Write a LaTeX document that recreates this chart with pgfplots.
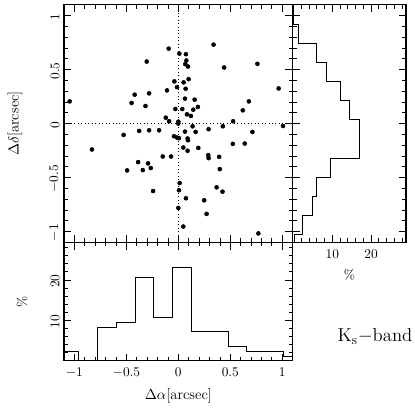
\documentclass[border=0pt]{standalone}
\usepackage{pgfplots}
\pgfplotsset{compat=1.18}

\pgfplotsset{
  panel/.style={scale only axis, axis line style={line width=0.8pt},
    major tick length=5.5pt, minor tick length=3pt,
    every tick/.style={black,line width=0.6pt},
    tick align=inside, xtick pos=both, ytick pos=both,
    xticklabel style={yshift=-2pt}},
  hist/.style={black,line width=0.6pt,no marks},
}

\begin{document}
\begin{tikzpicture}
\useasboundingbox (-48pt,-126.5pt) rectangle (263.25pt,181.7pt);

% scatter of offsets
\begin{axis}[panel,name=main,at={(0,0)},anchor=south west,
  width=171.5pt,height=178pt,
  xmin=-1.1,xmax=1.1,ymin=-1.1,ymax=1.1,
  xtick={-1,-0.5,0,0.5,1},xticklabels={},
  ytick={-1,-0.5,0,0.5,1},
  minor xtick={-0.9,-0.8,-0.7,-0.6,-0.4,-0.3,-0.2,-0.1,0.1,0.2,0.3,0.4,0.6,0.7,0.8,0.9},
  minor ytick={-0.9,-0.8,-0.7,-0.6,-0.4,-0.3,-0.2,-0.1,0.1,0.2,0.3,0.4,0.6,0.7,0.8,0.9},
  yticklabel style={rotate=90,anchor=south,xshift=-1pt},
  ylabel={\fontsize{11}{13}\selectfont$\Delta\delta$[arcsec]},
  ylabel style={at={(axis description cs:-0.215,0.5)},anchor=center,rotate=0}]
\addplot[black,dotted,line width=0.6pt] coordinates {(-1.1,0) (1.1,0)};
\addplot[black,dotted,line width=0.6pt] coordinates {(0,-1.1) (0,1.1)};
\addplot[only marks,mark=*,mark size=1.5pt,black] coordinates {
(-1.045,0.206) (-0.831,-0.240) (-0.527,-0.105) (-0.492,-0.434) (-0.450,0.191)
(-0.420,0.268) (-0.387,-0.357) (-0.377,-0.068) (-0.342,-0.431) (-0.316,0.163)
(-0.304,0.575) (-0.291,-0.369) (-0.281,0.280) (-0.281,-0.062) (-0.265,-0.412)
(-0.243,-0.625) (-0.185,-0.062) (-0.150,-0.305) (-0.121,0.055) (-0.109,0.308)
(-0.093,0.695) (-0.089,0.022) (-0.070,-0.305) (-0.038,0.391) (-0.042,-0.117)
(-0.029,0.135) (-0.013,0.338) (-0.013,-0.129) (0.000,0.018) (0.000,0.000)
(0.006,-0.135) (0.010,0.649) (0.013,-0.551) (0.006,-0.618) (0.000,-0.782)
(0.038,0.135) (0.051,0.382) (0.048,-0.222) (0.048,-0.954) (0.064,0.231)
(0.067,0.551) (0.070,0.323) (0.073,0.643) (0.077,0.585) (0.073,-0.692)
(0.083,0.086) (0.093,0.529) (0.089,-0.138) (0.093,-0.154) (0.089,-0.252)
(0.099,0.412) (0.121,0.071) (0.137,-0.025) (0.157,0.222) (0.166,-0.077)
(0.188,0.154) (0.192,-0.225) (0.249,-0.711) (0.272,-0.837) (0.291,-0.052)
(0.288,-0.292) (0.291,-0.320) (0.144,0.129) (0.064,-0.074) (0.428,-0.025)
(0.527,0.022) (0.339,0.732) (0.441,0.520) (0.761,0.554) (0.965,0.326)
(1.007,-0.022) (0.678,0.206) (0.620,0.123) (0.713,-0.077) (0.524,-0.188)
(0.639,-0.185) (0.393,-0.308) (0.399,-0.422) (0.368,-0.591) (0.425,-0.631)
(0.770,-1.018)
};
\end{axis}

% histogram of declination offsets
\begin{axis}[panel,at={(main.south east)},anchor=south west,
  width=85pt,height=178pt,
  xmin=-0.2,xmax=29,ymin=-1.1,ymax=1.1,
  xtick={10,20},minor xtick={2,4,6,8,12,14,16,18,22,24,26,28},
  ytick={-1,-0.5,0,0.5,1},yticklabels={},
  minor ytick={-0.9,-0.8,-0.7,-0.6,-0.4,-0.3,-0.2,-0.1,0.1,0.2,0.3,0.4,0.6,0.7,0.8,0.9},
  xlabel={\%},xlabel style={at={(axis description cs:0.5,-0.138)},anchor=center}]
\addplot[hist] coordinates {
(0,1.1) (0,0.923) (1.2,0.923) (1.2,0.746) (6.0,0.746) (6.0,0.568)
(8.4,0.568) (8.4,0.390) (12.0,0.390) (12.0,0.213) (14.5,0.213) (14.5,0.035)
(16.9,0.035) (16.9,-0.320) (9.6,-0.320) (9.6,-0.497) (6.0,-0.497) (6.0,-0.675)
(4.8,-0.675) (4.8,-0.852) (2.4,-0.852) (2.4,-1.030) (0.3,-1.030) (0.3,-1.1)
};
\end{axis}

% histogram of right ascension offsets
\begin{axis}[panel,at={(main.south west)},anchor=north west,
  width=171.5pt,height=89pt,
  xmin=-1.1,xmax=1.1,ymin=0,ymax=29.3,
  xtick={-1,-0.5,0,0.5,1},
  minor xtick={-0.9,-0.8,-0.7,-0.6,-0.4,-0.3,-0.2,-0.1,0.1,0.2,0.3,0.4,0.6,0.7,0.8,0.9},
  ytick={10,20},minor ytick={2,4,6,8,12,14,16,18,22,24,26,28},
  yticklabel style={rotate=90,anchor=south,xshift=-1pt},
  xlabel={\fontsize{11}{13}\selectfont$\Delta\alpha$[arcsec]},
  xlabel style={at={(axis description cs:0.5,-0.29)},anchor=center},
  ylabel={\%},
  ylabel style={at={(axis description cs:-0.184,0.5)},anchor=center,rotate=0}]
\addplot[hist,const plot] coordinates {
(-1.1,2.4) (-0.959,0) (-0.777,8.4) (-0.597,9.6) (-0.415,20.6) (-0.240,10.8)
(-0.058,23.0) (0.122,7.2) (0.304,7.2) (0.483,3.6) (0.658,2.4) (0.837,2.4)
(1.014,1.2) (1.1,1.2)
};
\end{axis}

\node at (233.25pt,-71pt) {\fontsize{14}{16}\selectfont K$_\mathrm{s}$$-$band};
\end{tikzpicture}
\end{document}
